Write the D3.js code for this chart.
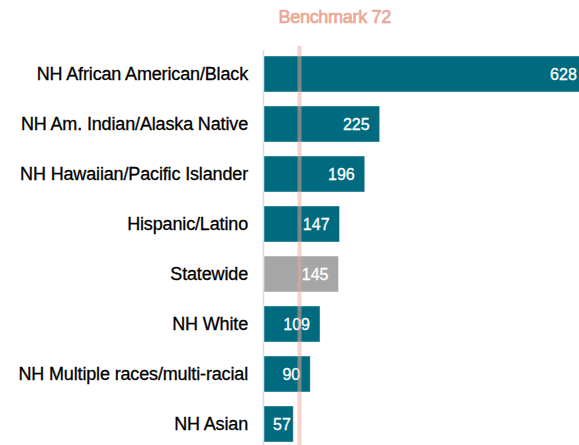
<!DOCTYPE html>
<html>
<head>
<meta charset="utf-8">
<script src="https://cdn.jsdelivr.net/npm/d3@7"></script>
<style>
  body { margin: 0; background: #fff; }
  svg { display: block; }
</style>
</head>
<body>
<div id="chart"></div>
<script>
// data
var categories = [
  "NH African American/Black",
  "NH Am. Indian/Alaska Native",
  "NH Hawaiian/Pacific Islander",
  "Hispanic/Latino",
  "Statewide",
  "NH White",
  "NH Multiple races/multi-racial",
  "NH Asian"
];
var values = [628, 225, 196, 147, 145, 109, 90, 57];
var benchmark = 72;
var benchmarkLabel = "Benchmark 72";

var width = 579, height = 445;
var x0 = 264, pxPerUnit = 0.514;

var svg = d3.select("#chart")
  .append("svg")
  .attr("width", width)
  .attr("height", height);

var data = categories.map(function(c, i) { return { cat: c, val: values[i] }; });

var x = d3.scaleLinear()
  .domain([0, 628])
  .range([x0, x0 + 628 * pxPerUnit]);

var y = d3.scaleBand()
  .domain(categories)
  .range([49, 449])
  .paddingInner(0.28)
  .paddingOuter(0.14);

// axis line
svg.append("line")
  .attr("x1", x0 - 0.5).attr("x2", x0 - 0.5)
  .attr("y1", 50).attr("y2", height)
  .attr("stroke", "#d9d9d9")
  .attr("stroke-width", 1.5);

// bars
svg.append("g")
  .selectAll("rect")
  .data(data)
  .enter()
  .append("rect")
    .attr("x", x(0))
    .attr("y", function(d) { return y(d.cat); })
    .attr("width", function(d) { return x(d.val) - x(0); })
    .attr("height", y.bandwidth())
    .attr("fill", function(d) { return d.cat === "Statewide" ? "#a6a6a6" : "#006a7f"; })
    .attr("stroke", "#ffffff")
    .attr("stroke-opacity", 0.45)
    .attr("stroke-width", 1);

// category labels
svg.append("g")
  .selectAll("text")
  .data(data)
  .enter()
  .append("text")
    .attr("x", 248)
    .attr("y", function(d) { return y(d.cat) + y.bandwidth() / 2; })
    .attr("dy", "0.35em")
    .attr("text-anchor", "end")
    .attr("font-family", "Liberation Sans, Arial, sans-serif")
    .attr("font-size", "18px")
    .attr("letter-spacing", "-0.15px")
    .attr("fill", "#000")
    .attr("stroke", "#000")
    .attr("stroke-width", 0.3)
    .text(function(d) { return d.cat; });

// value labels
svg.append("g")
  .selectAll("text")
  .data(data)
  .enter()
  .append("text")
    .attr("y", function(d) { return y(d.cat) + y.bandwidth() / 2; })
    .attr("dy", "0.36em")
    .attr("text-anchor", "end")
    .attr("font-family", "Liberation Sans, Arial, sans-serif")
    .attr("font-size", "16px")
    .attr("fill", "#fff")
    .attr("stroke", "#fff")
    .attr("stroke-width", 0.3)
    .text(function(d) { return d.val; })
    .attr("x", function(d) {
      var w = this.getComputedTextLength();
      return Math.max(x(d.val) - 10, x(0) + 9 + w);
    });

// benchmark line
var bx = x(benchmark) - 1.5;
svg.append("line")
  .attr("x1", bx).attr("x2", bx)
  .attr("y1", 46).attr("y2", height)
  .attr("stroke", "#eba898")
  .attr("stroke-opacity", 0.5)
  .attr("stroke-width", 4);

svg.append("text")
  .attr("x", bx - 21)
  .attr("y", 23)
  .attr("text-anchor", "start")
  .attr("font-family", "Liberation Sans, Arial, sans-serif")
  .attr("font-size", "18px")
  .attr("letter-spacing", "-0.3px")
  .attr("fill", "#eba898")
  .attr("stroke", "#eba898")
  .attr("stroke-width", 0.7)
  .text(benchmarkLabel);
</script>
</body>
</html>
